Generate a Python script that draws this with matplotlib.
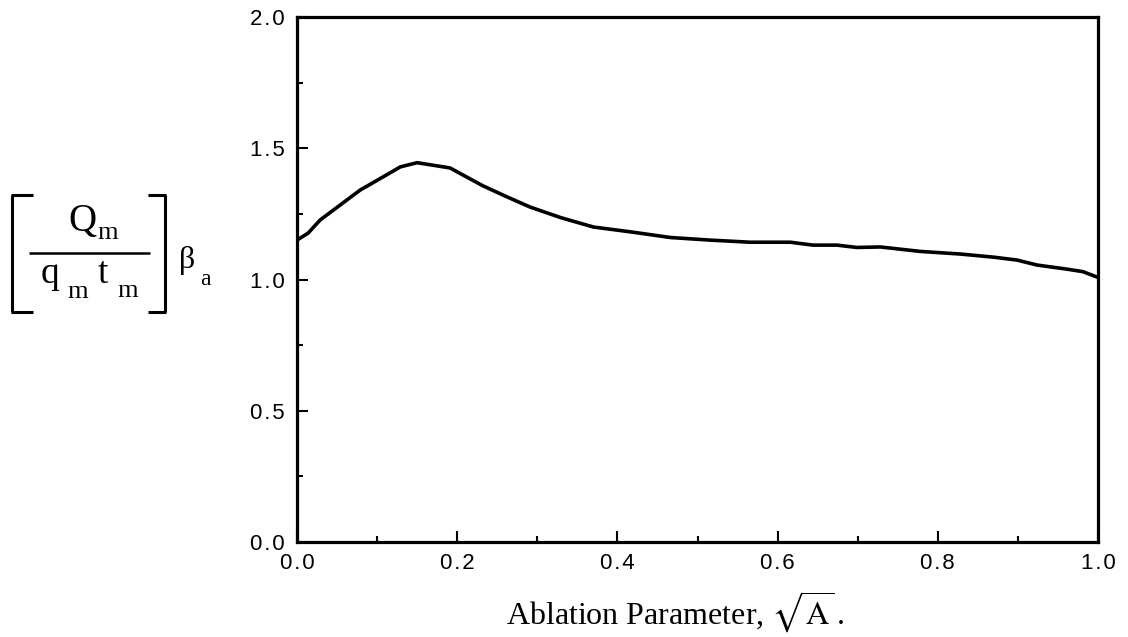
import matplotlib.pyplot as plt
from matplotlib.ticker import MultipleLocator
from matplotlib.lines import Line2D

plt.rcParams['mathtext.fontset'] = 'stix'

# curve
sqrt_a = [0.0, 0.0, 0.014, 0.029, 0.054, 0.079, 0.107, 0.129, 0.15, 0.191, 0.232,
          0.262, 0.291, 0.330, 0.370, 0.420, 0.466, 0.516, 0.566, 0.616, 0.644,
          0.674, 0.699, 0.728, 0.778, 0.828, 0.870, 0.899, 0.924, 0.960, 0.981, 1.0]
q_ratio = [0.0, 1.15, 1.177, 1.227, 1.284, 1.341, 1.390, 1.429, 1.445, 1.425, 1.357,
           1.315, 1.276, 1.235, 1.200, 1.180, 1.160, 1.150, 1.142, 1.142, 1.131,
           1.131, 1.122, 1.124, 1.107, 1.097, 1.085, 1.074, 1.055, 1.040, 1.030, 1.008]

x_ticks = [0.0, 0.2, 0.4, 0.6, 0.8, 1.0]
y_ticks = [0.0, 0.5, 1.0, 1.5, 2.0]

W, H = 1128, 637
fig = plt.figure(figsize=(W / 100, H / 100), dpi=100)
ax = fig.add_axes([297 / W, 1 - 542 / H, 801 / W, 525 / H])

ax.plot(sqrt_a, q_ratio, color='black', linewidth=2.6)

ax.set_xlim(0, 1)
ax.set_ylim(0, 2)
ax.set_xticks(x_ticks)
ax.set_yticks(y_ticks)
ax.xaxis.set_minor_locator(MultipleLocator(0.1))
ax.yaxis.set_minor_locator(MultipleLocator(0.25))

def spaced(v):
    return "\u200a".join(f"{v:.1f}")

ax.set_xticklabels([spaced(v) for v in x_ticks], fontfamily=['Liberation Sans', 'DejaVu Sans'], fontsize=16)
ax.set_yticklabels([spaced(v) for v in y_ticks], fontfamily=['Liberation Sans', 'DejaVu Sans'], fontsize=16)
ax.tick_params(axis='x', which='major', direction='in', length=8, width=1.5, pad=8)
ax.tick_params(axis='y', which='major', direction='in', length=8, width=1.5, pad=9)
ax.tick_params(which='minor', direction='in', length=4.5, width=1.5)
for s in ax.spines.values():
    s.set_linewidth(2.3)

# x label (centred a bit left of the axes, as in the original)
fig.text(675 / W, 1 - 625 / H, r"Ablation Parameter, $\sqrt{\mathrm{A}}\,$.",
         fontfamily='Liberation Serif', fontsize=23, ha='center', va='baseline')

# y label: [ Q_m / (q_m t_m) ] beta_a, built from pieces
def px(x, y):
    return x / W, 1 - y / H

def seg(x0, y0, x1, y1, lw=2.2):
    (a, b), (c, d) = px(x0, y0), px(x1, y1)
    fig.add_artist(Line2D([a, c], [b, d], color='black', linewidth=lw,
                          transform=fig.transFigure, solid_capstyle='butt'))

seg(12, 195, 12, 312)
seg(11, 195, 33, 195)
seg(11, 312, 33, 312)
seg(165, 195, 165, 312)
seg(148, 195, 166, 195)
seg(148, 312, 166, 312)
seg(29, 253, 150, 253, lw=1.8)

serif = dict(fontfamily='Liberation Serif', color='black', va='baseline')
fig.text(*px(68, 231), "Q", fontsize=28, **serif)
fig.text(*px(97, 239), "m", fontsize=19, **serif)
fig.text(*px(41, 283), "q", fontsize=27, **serif)
fig.text(*px(67, 298), "m", fontsize=19, **serif)
fig.text(*px(98, 283), "t", fontsize=27, **serif)
fig.text(*px(117, 297), "m", fontsize=19, **serif)
fig.text(*px(179, 268), "\u03b2", fontsize=23, **serif)
fig.text(*px(200, 285), "a", fontsize=17, **serif)

fig.savefig('out.png', dpi=100)
